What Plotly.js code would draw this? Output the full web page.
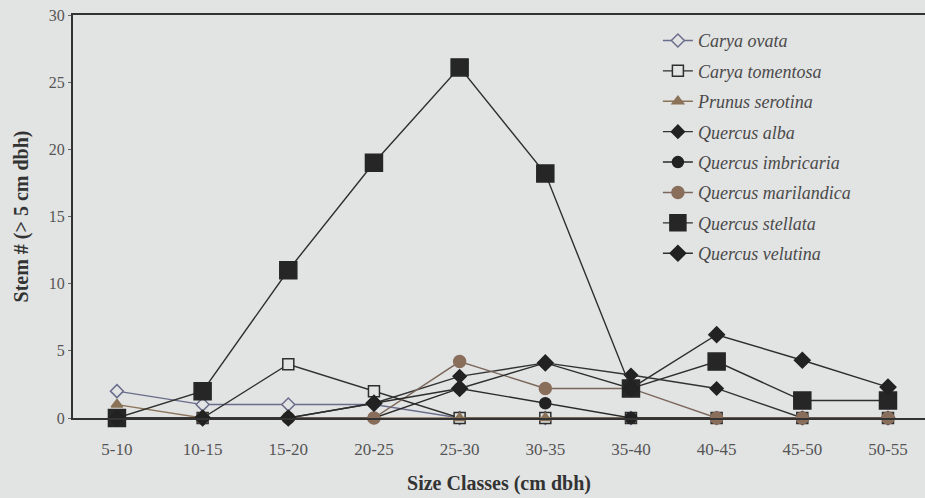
<!DOCTYPE html>
<html>
<head>
<meta charset="utf-8">
<script src="https://cdn.plot.ly/plotly-3.0.1.min.js"></script>
<style>html,body{margin:0;padding:0;background:#e2e3e3;}#chart{width:925px;height:498px;}</style>
</head>
<body>
<div id="chart"></div>
<script>
const sizeClasses = ["5-10","10-15","15-20","20-25","25-30","30-35","35-40","40-45","45-50","50-55"];
const caryaOvata = [2,1,1,1,0,0,0,0,0,0];
const caryaTomentosa = [0,0,4,2,0,0,0,0,0,0];
const prunusSerotina = [1,0,0,0,0,0,0,0,0,0];
const quercusAlba = [0,0,0,1.1,3.1,4.1,3.2,2.2,0,0];
const quercusImbricaria = [0,0,0,0,2.2,1.1,0,0,0,0];
const quercusMarilandica = [0,0,0,0,4.2,2.2,2.2,0,0,0];
const quercusStellata = [0,2,11,19,26.1,18.2,2.2,4.2,1.3,1.3];
const quercusVelutina = [0,0,0,1.1,2.2,4.1,2.2,6.2,4.3,2.3];

const bg = "#e2e3e3";
const serif = "'Liberation Serif', 'Times New Roman', Times, serif";
function tr(name, y, lineColor, symbol, size, fill, outline, group){
  return {
    type: "scatter", mode: "lines+markers", name: name, x: sizeClasses, y: y,
    legendgroup: group, cliponaxis: false,
    line: {color: lineColor, width: 1.4},
    marker: {symbol: symbol, size: size, color: fill, line: {color: outline, width: 1.5}}
  };
}
const data = [
  tr("<i>Carya ovata</i>", caryaOvata, "#6a6e8c", "diamond", 10, bg, "#6a6e8c", "a"),
  tr("<i>Carya tomentosa</i>", caryaTomentosa, "#2e2e2e", "square", 11, bg, "#2e2e2e", "b"),
  tr("<i>Prunus serotina</i>", prunusSerotina, "#8a7358", "triangle-up", 10, "#8a7358", "#8a7358", "c"),
  tr("<i>Quercus alba</i>", quercusAlba, "#333333", "diamond", 10, "#222222", "#222222", "d"),
  tr("<i>Quercus imbricaria</i>", quercusImbricaria, "#2a2a2a", "circle", 11, "#222222", "#222222", "e"),
  tr("<i>Quercus marilandica</i>", quercusMarilandica, "#7a665a", "circle", 12, "#8a6e5c", "#8a6e5c", "f"),
  tr("<i>Quercus stellata</i>", quercusStellata, "#2e2e2e", "square", 17, "#262626", "#262626", "g"),
  tr("<i>Quercus velutina</i>", quercusVelutina, "#2e2e2e", "diamond", 12, "#222222", "#222222", "h")
];

const layout = {
  width: 925, height: 498,
  margin: {l: 73, r: 0, t: 15, b: 80},
  paper_bgcolor: bg, plot_bgcolor: bg,
  font: {family: serif, color: "#444"},
  showlegend: true,
  legend: {
    x: 0.6865, y: 0.982, xanchor: "left", yanchor: "top",
    bgcolor: "rgba(0,0,0,0)", tracegroupgap: 4,
    font: {family: serif, size: 18, color: "#4a4a4a"}
  },
  xaxis: {
    type: "category", range: [-0.513, 9.432],
    showline: true, linecolor: "#333", linewidth: 2, mirror: true,
    showgrid: false, zeroline: false, ticks: "", ticklabelstandoff: 15,
    tickfont: {family: serif, size: 17, color: "#555"},
    title: {text: "<b>Size Classes (cm dbh)</b>", font: {family: serif, size: 20, color: "#333"}, standoff: 18}
  },
  yaxis: {
    range: [0, 30], tickvals: [0,5,10,15,20,25,30],
    showline: true, linecolor: "#333", linewidth: 2,
    showgrid: false, zeroline: false, ticks: "outside", ticklen: 3, tickcolor: "#666",
    tickfont: {family: serif, size: 16, color: "#555"},
    title: {text: "<b>Stem # (> 5 cm dbh)</b>", font: {family: serif, size: 20, color: "#333"}, standoff: 15}
  }
};
Plotly.newPlot("chart", data, layout, {displayModeBar: false, staticPlot: true});
</script>
</body>
</html>
